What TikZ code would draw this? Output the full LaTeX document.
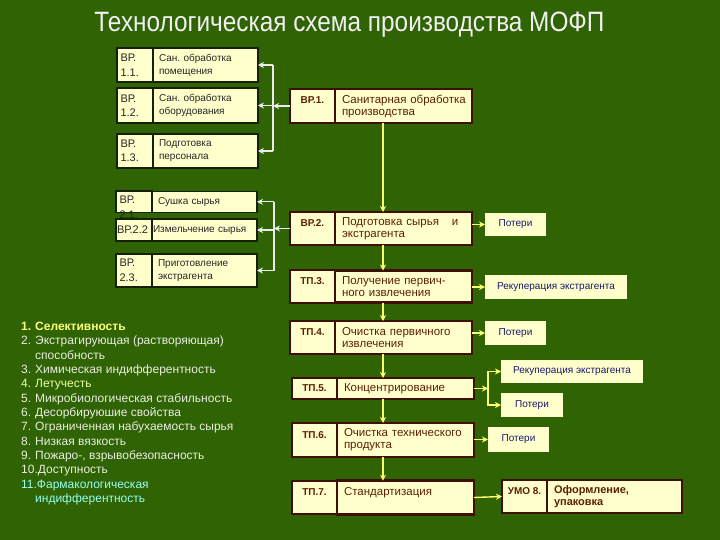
\documentclass[tikz,border=0pt]{standalone}
\usepackage{fontspec}
\setmainfont{Liberation Sans}
\usepackage{xcolor}
\usetikzlibrary{arrows.meta,positioning,calc}
\definecolor{bgc}{RGB}{47,99,3}
\definecolor{cream}{RGB}{255,255,204}
\definecolor{brn}{RGB}{62,16,4}
\definecolor{brtx}{RGB}{92,32,4}
\definecolor{sbd}{RGB}{22,32,8}
\definecolor{ylw}{RGB}{255,255,110}
\definecolor{navy}{RGB}{24,24,112}
\definecolor{lgr}{RGB}{234,238,226}
\definecolor{lyel}{RGB}{255,255,120}
\definecolor{lyg}{RGB}{236,255,160}
\definecolor{lcy}{RGB}{150,255,240}

\begin{document}
\begin{tikzpicture}[x=1pt,y=-1pt]
\tikzset{
  mcode/.style={draw=brn, line width=2.4pt, fill=cream, anchor=north west, outer sep=0pt,
                minimum width=45pt, inner sep=3pt, text=brtx,
                font=\fontsize{10}{12}\selectfont\bfseries},
  mtext/.style={draw=brn, line width=2.4pt, fill=cream, outer sep=0pt, minimum width=137pt,
                text width=123pt, inner xsep=7pt, align=left, text=brtx,
                font=\fontsize{11.5}{12}\selectfont},
  upln/.style={text height=11.5pt, text depth=15.5pt},
  scode/.style={draw=sbd, line width=1.2pt, fill=cream, anchor=north west, outer sep=0pt,
                minimum width=36pt, text width=29pt, inner xsep=3.5pt, align=left,
                text=black!85, font=\fontsize{11}{14.5}\selectfont},
  stext/.style={draw=sbd, line width=1.2pt, fill=cream, outer sep=0pt, minimum width=105pt,
                text width=93pt, inner xsep=6pt, align=left, text=black!85,
                font=\fontsize{10}{13}\selectfont},
  loss/.style={fill=cream, anchor=north west, outer sep=0pt, minimum width=61pt,
               text=navy, font=\fontsize{10}{12}\selectfont},
  lst/.style={anchor=north west, align=left, inner sep=0pt, text=lgr,
              font=\fontsize{12}{14.33}\selectfont},
  ttl/.style={anchor=base, inner sep=0pt, text=white!94!black, font=\fontsize{28}{30}\selectfont},
  warr/.style={-{Stealth[length=6pt,width=6pt]}, draw=white!92!black, line width=1.3pt},
  wln/.style={draw=white!92!black, line width=1.3pt},
  yarr/.style={-{Stealth[length=6pt,width=6pt]}, draw=ylw, line width=1.4pt}
}
\useasboundingbox (0,0) rectangle (720,540);
\fill[bgc] (0,0) rectangle (720,540);

\node[ttl] (ttl) at (349.5,32) {\scalebox{0.87}[1]{Технологическая схема производства МОФП}};

% auxiliary works, group 1
\node[scode, minimum height=34pt] (c11) at (117,48) {ВР.\\1.1.};
\node[stext, minimum height=34pt, right=0pt of c11] (s11) {Сан.~обработка\\помещения};
\node[scode, minimum height=35pt] (c12) at (117,88) {ВР.\\1.2.};
\node[stext, minimum height=35pt, right=0pt of c12] (s12) {Сан.~обработка\\оборудования};
\node[scode, minimum height=34pt] (c13) at (117,134) {ВР.\\1.3.};
\node[stext, minimum height=34pt, right=0pt of c13] (s13) {Подготовка\\персонала};

% auxiliary works, group 2
\node[scode, minimum height=21pt, text height=9pt, text depth=6pt,
      font=\fontsize{11}{15.5}\selectfont] (c21) at (116,191) {ВР.\\2.1.};
\node[stext, minimum height=21pt, right=0pt of c21] (s21) {Сушка~сырья};
\node[scode, minimum height=22pt, inner xsep=1pt, text width=34pt] (c22) at (116,219) {ВР.2.2};
\node[stext, minimum height=22pt, inner xsep=1pt, text width=103pt, right=0pt of c22] (s22) {Измельчение~сырья};
\node[scode, minimum height=33pt] (c23) at (116,254) {ВР.\\2.3.};
\node[stext, minimum height=33pt, right=0pt of c23] (s23) {Приготовление\\экстрагента};

% main line
\node[mcode, upln, minimum height=34pt] (k1) at (290,89) {ВР.1.};
\node[mtext, minimum height=34pt, right=0pt of k1] (b1) {Санитарная~обработка\\производства};
\node[mcode, upln, minimum height=33pt] (k2) at (290,212) {ВР.2.};
\node[mtext, minimum height=33pt, right=0pt of k2] (b2) {Подготовка~сырья\hspace{13pt}и\\экстрагента};
\node[mcode, upln, minimum height=32pt] (k3) at (290,270) {ТП.3.};
\node[mtext, minimum height=32pt, right=0pt of k3] (b3) {Получение~первич-\\ного~извлечения};
\node[mcode, upln, minimum height=33pt] (k4) at (290,321) {ТП.4.};
\node[mtext, minimum height=33pt, right=0pt of k4] (b4) {Очистка~первичного\\извлечения};
\node[mcode, minimum height=21pt, text height=9pt, text depth=3pt] (k5) at (292,378) {ТП.5.};
\node[mtext, minimum height=21pt, minimum width=136pt, right=0pt of k5] (b5) {Концентрирование};
\node[mcode, upln, minimum height=34pt] (k6) at (292,423) {ТП.6.};
\node[mtext, minimum height=34pt, minimum width=136pt, right=0pt of k6] (b6) {Очистка~технического\\продукта};
\node[mcode, upln, minimum height=32pt] (k7) at (292,481) {ТП.7.};
\node[mtext, upln, minimum height=32pt, minimum width=136pt, right=0pt of k7] (b7) {Стандартизация};
\node[mcode, upln, minimum height=33pt] (u8c) at (502,480) {УМО 8.};
\node[mtext, minimum height=33pt, minimum width=135pt, text width=121pt, inner xsep=7pt,
      font=\fontsize{11}{12}\selectfont\bfseries, right=0pt of u8c] (u8) {Оформление,\\упаковка};

% losses and recovery
\node[loss, minimum height=23pt] (p1) at (485,213) {Потери};
\node[loss, minimum height=24pt, minimum width=142pt] (r1) at (485,275) {Рекуперация экстрагента};
\node[loss, minimum height=24pt] (p2) at (485,321) {Потери};
\node[loss, minimum height=23pt, minimum width=142pt] (r2) at (501,360) {Рекуперация экстрагента};
\node[loss, minimum height=24pt, minimum width=62pt] (p3) at (501,393) {Потери};
\node[loss, minimum height=25pt] (p4) at (488,427) {Потери};

% solvent properties
\node[lst] (props) at (21,322) {%
  \textcolor{lyel}{\bfseries\makebox[14pt][l]{1.}Селективность}\\
  \makebox[14pt][l]{2.}Экстрагирующая (растворяющая)\\
  \hspace*{14pt}способность\\
  \makebox[14pt][l]{3.}Химическая индифферентность\\
  \textcolor{lyg}{\makebox[14pt][l]{4.}Летучесть}\\
  \makebox[14pt][l]{5.}Микробиологическая стабильность\\
  \makebox[14pt][l]{6.}Десорбируюшие свойства\\
  \makebox[14pt][l]{7.}Ограниченная набухаемость сырья\\
  \makebox[14pt][l]{8.}Низкая вязкость\\
  \makebox[14pt][l]{9.}Пожаро-, взрывобезопасность\\
  10.Доступность\\
  \textcolor{lcy}{11.Фармакологическая}\\
  \textcolor{lcy}{\hspace*{14pt}индифферентность}};

% brackets to the auxiliary works
\coordinate (j1) at (273,0);
\coordinate (j2) at (274,0);
\draw[warr] (k1.west) -- (k1.west -| j1);
\draw[wln] (s11.east -| j1) -- (s13.east -| j1);
\foreach \s in {s11,s12,s13} \draw[warr] (\s.east -| j1) -- (\s.east);
\draw[warr] (k2.west) -- (k2.west -| j2);
\draw[wln] (s21.east -| j2) -- (s23.east -| j2);
\foreach \s in {s21,s22,s23} \draw[warr] (\s.east -| j2) -- (\s.east);

% flow down the main line
\coordinate (col) at (383,0);
\draw[yarr] (b1.south -| col) -- (b2.north -| col);
\draw[yarr] (b2.south -| col) -- (b3.north -| col);
\draw[yarr] (b3.south -| col) -- (b4.north -| col);
\draw[yarr] (b4.south -| col) -- (b5.north -| col);
\draw[yarr] (b5.south -| col) -- (b6.north -| col);
\draw[yarr] (b6.south -| col) -- (b7.north -| col);

% side outputs
\draw[yarr] (b2.east |- p1.west) -- (p1.west);
\draw[yarr] (b3.east |- r1.west) -- (r1.west);
\draw[yarr] (b4.east |- p2.west) -- (p2.west);
\coordinate (sp) at ([xshift=14pt]b5.east);
\draw[yarr] (b5.east) -- (sp);
\draw[yarr] (sp) |- (r2.west);
\draw[yarr] (sp) |- (p3.west);
\draw[yarr] (b6.east |- p4.west) -- (p4.west);
\draw[yarr] (b7.east) -- (u8c.west);
\end{tikzpicture}
\end{document}
